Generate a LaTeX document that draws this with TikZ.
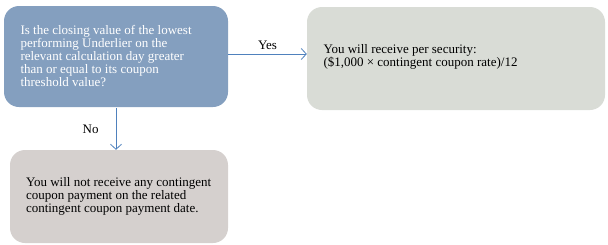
\documentclass[tikz,border=0pt]{standalone}
\usepackage{fontspec}
\setmainfont{Liberation Serif}
\usetikzlibrary{arrows.meta}
\definecolor{boxblue}{HTML}{849FBF}
\definecolor{boxgreen}{HTML}{D9DCD6}
\definecolor{boxgrey}{HTML}{D5D0CE}
\definecolor{linkblue}{HTML}{4F81BD}
\begin{document}
\begin{tikzpicture}[x=1pt,y=-1pt,
  box/.style={rounded corners=15pt, inner sep=0pt},
  boxtext/.style={anchor=west, align=left, inner sep=0pt, font=\fontsize{13}{13}\selectfont},
  link/.style={draw=linkblue, line width=0.8pt, -{Straight Barb[length=5pt,width=11pt,line width=0.8pt]}},
  lbl/.style={font=\fontsize{13}{13}\selectfont, text=black, inner sep=0pt}]
\useasboundingbox (0,0) rectangle (608,244);
\node[box, fill=boxblue, minimum width=224pt, minimum height=101pt] (q) at (116,56.5) {};
\node[boxtext, text=white] (qt) at ([xshift=16.5pt]q.west)
  {Is the closing value of the lowest\\performing Underlier on the\\relevant calculation day greater\\than or equal to its coupon\\threshold value?};
\node[box, fill=boxgreen, minimum width=298pt, minimum height=103pt] (yes) at (456,58.5) {};
\node[boxtext, text=black] (yest) at ([xshift=16.5pt,yshift=2pt]yes.west)
  {You will receive per security:\\(\$1,000 × contingent coupon rate)/12};
\node[box, fill=boxgrey, minimum width=218pt, minimum height=93pt] (no) at (119,196.5) {};
\node[boxtext, text=black] (not) at ([xshift=16pt]no.west)
  {You will not receive any contingent\\coupon payment on the related\\contingent coupon payment date.};
\draw[link] ([yshift=2.5pt]q.east) -- ([yshift=4.5pt]yes.west) node[lbl, midway, above=4pt] {Yes};
\draw[link] ([yshift=-1pt]q.south) -- (q.south |- no.north) node[lbl, midway, left=17pt] {No};
\end{tikzpicture}
\end{document}
